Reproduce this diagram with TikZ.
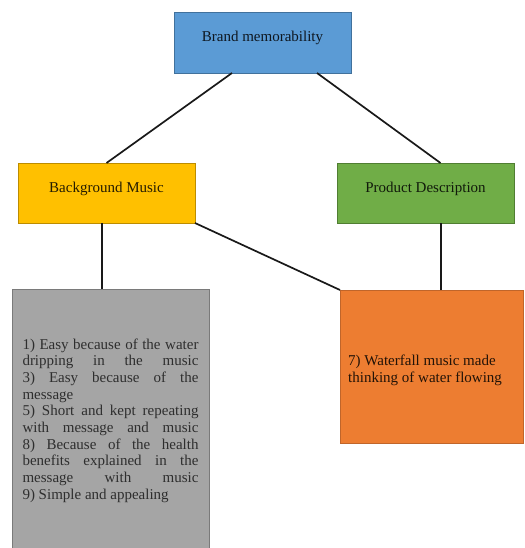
\documentclass[tikz,border=0pt]{standalone}
\usepackage{fontspec}
\setmainfont{Liberation Serif}
\usetikzlibrary{calc}

\definecolor{blueFill}{HTML}{5B9BD5}
\definecolor{blueLine}{HTML}{41719C}
\definecolor{goldFill}{HTML}{FFC000}
\definecolor{goldLine}{HTML}{BC8C00}
\definecolor{greenFill}{HTML}{70AD47}
\definecolor{greenLine}{HTML}{507E32}
\definecolor{grayFill}{HTML}{A5A5A5}
\definecolor{grayLine}{HTML}{7A7A7A}
\definecolor{orangeFill}{HTML}{ED7D31}
\definecolor{orangeLine}{HTML}{C0652A}

% one line of the justified list, spread to the full width
\newcommand\jline[1]{\makebox[176pt][s]{#1}}

\tikzset{
  box/.style={draw, line width=0.9pt, inner sep=0pt, outer sep=0pt,
    font=\fontsize{15}{16.7}\selectfont},
  label/.style={font=\fontsize{15}{16.7}\selectfont},
  link/.style={draw=black!90, line width=1.7pt},
}

\begin{document}
\begin{tikzpicture}[x=1pt, y=-1pt]
  \clip (0,0) rectangle (524,548);
  \useasboundingbox (0,0) rectangle (524,548);

  % level 1
  \node[box, fill=blueFill, draw=blueLine,
        minimum width=177pt, minimum height=61pt] (brand) at (262.5,42.5) {};
  \node[label, text=blueFill!15!black] (brandtxt) at (262.5,38) {Brand memorability};

  % level 2
  \node[box, fill=goldFill, draw=goldLine,
        minimum width=177pt, minimum height=60pt] (music) at (106.5,193) {};
  \node[label, text=goldFill!15!black] (musictxt) at (106.5,189) {Background Music};

  \node[box, fill=greenFill, draw=greenLine,
        minimum width=177pt, minimum height=60pt] (product) at (425.5,193) {};
  \node[label, text=greenFill!15!black] (producttxt) at (425.5,189) {Product Description};

  % level 3
  \node[box, fill=grayFill, draw=grayLine, text=black!82,
        minimum width=197pt, minimum height=263pt, align=left] (answers) at (110.5,420.5)
    {\jline{1) Easy because of the water}\\
     \jline{dripping in the music}\\
     \jline{3) Easy because of the}\\
     message\\
     \jline{5) Short and kept repeating}\\
     \jline{with message and music}\\
     \jline{8) Because of the health}\\
     \jline{benefits explained in the}\\
     \jline{message with music}\\
     9) Simple and appealing};

  \node[box, fill=orangeFill, draw=orangeLine,
        minimum width=183pt, minimum height=153pt] (waterfall) at (431.5,366.5) {};
  \node[label, anchor=west, align=left, inner sep=0pt, text=orangeFill!15!black]
    (waterfalltxt) at (348,370.5)
    {7) Waterfall music made\\thinking of water flowing};

  % connectors
  \draw[link] ([xshift=58pt]brand.south west) -- (music.north);
  \draw[link] ([xshift=143pt]brand.south west) -- ([xshift=15pt]product.north);
  \draw[link] ([xshift=-4.5pt]music.south) -- ([xshift=-4.5pt]music.south |- answers.north);
  \draw[link] (music.south east) -- (waterfall.north west);
  \draw[link] ([xshift=15.5pt]product.south) -- ([xshift=15.5pt]product.south |- waterfall.north);
\end{tikzpicture}
\end{document}
